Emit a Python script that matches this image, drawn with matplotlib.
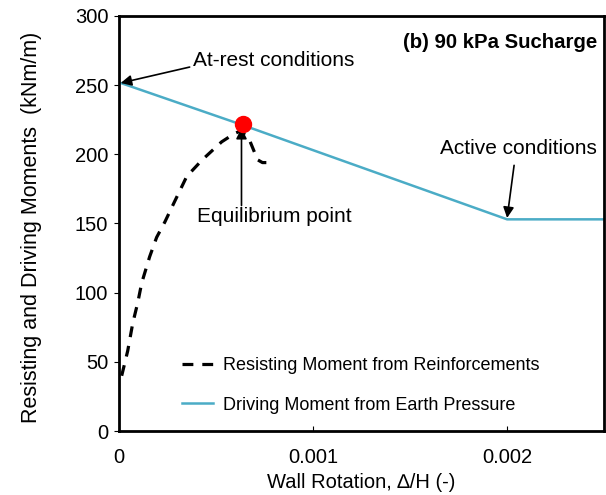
import matplotlib
matplotlib.use('Agg')
import matplotlib.pyplot as plt

plt.rcParams['font.family'] = ['Liberation Sans', 'DejaVu Sans']

# Resisting moment from reinforcements (dashed)
res_x = [0.000015, 0.000046, 0.000072, 0.000098, 0.000118, 0.000159, 0.000195,
         0.000237, 0.000288, 0.00035, 0.00043, 0.00053, 0.000596, 0.00063,
         0.000674, 0.000715, 0.00074, 0.00076]
res_y = [40, 58, 78, 93, 107, 126, 140, 151, 166, 184, 196, 209, 215, 217,
         210, 196, 194, 194]

# Driving moment from earth pressure (solid)
drv_x = [0.0, 0.00063, 0.002, 0.0025]
drv_y = [252, 221.5, 153, 153]

eq_x, eq_y = 0.00064, 222

fig = plt.figure(figsize=(6.06, 4.95), dpi=100)
ax = fig.add_axes([0.196, 0.129, 0.801, 0.839])

ax.plot(res_x, res_y, color='black', lw=2.3, ls=(0, (3.4, 2.8)),
        label='Resisting Moment from Reinforcements')
ax.plot(drv_x, drv_y, color='#4bacc6', lw=1.8,
        label='Driving Moment from Earth Pressure')
ax.plot(eq_x, eq_y, 'o', color='red', ms=11.5, zorder=5)

ax.set_xlim(0, 0.0025)
ax.set_ylim(0, 300)
ax.set_xticks([0, 0.001, 0.002])
ax.set_xticklabels(['0', '0.001', '0.002'])
ax.set_yticks(range(0, 301, 50))
ax.tick_params(axis='x', direction='in', labelsize=14.5, pad=12)
ax.tick_params(axis='y', direction='out', labelsize=14.5, pad=4)
for s in ax.spines.values():
    s.set_linewidth(2)

ax.set_xlabel('Wall Rotation, \u2206/H (-)', fontsize=14.5)
ax.xaxis.set_label_coords(0.5, -0.1)
ax.set_ylabel('Resisting and Driving Moments  (kNm/m)', fontsize=15.5)
ax.yaxis.set_label_coords(-0.158, 0.49)

ax.text(0.985, 0.937, '(b) 90 kPa Sucharge', transform=ax.transAxes,
        ha='right', va='center', fontsize=14.7, fontweight='bold')

arw = dict(arrowstyle='-|>', color='black', lw=1.2, mutation_scale=16,
           shrinkA=0, shrinkB=0)
ax.text(0.00038, 268, 'At-rest conditions', fontsize=15, va='center', ha='left')
ax.annotate('', xy=(0.00001, 251.5), xytext=(0.000365, 263), arrowprops=arw)
ax.text(0.00206, 204.5, 'Active conditions', fontsize=15, va='center', ha='center')
ax.annotate('', xy=(0.002, 154), xytext=(0.002036, 192), arrowprops=arw)
ax.text(0.0008, 155, 'Equilibrium point', fontsize=15, va='center', ha='center')
ax.annotate('', xy=(0.000632, 219), xytext=(0.000632, 163), arrowprops=arw)

ax.legend(loc='upper left', bbox_to_anchor=(0.13, 0.178), frameon=False,
          fontsize=13, handlelength=1.7, handletextpad=0.6, labelspacing=1.25,
          borderpad=0, borderaxespad=0)

fig.savefig('out.png', dpi=100)
